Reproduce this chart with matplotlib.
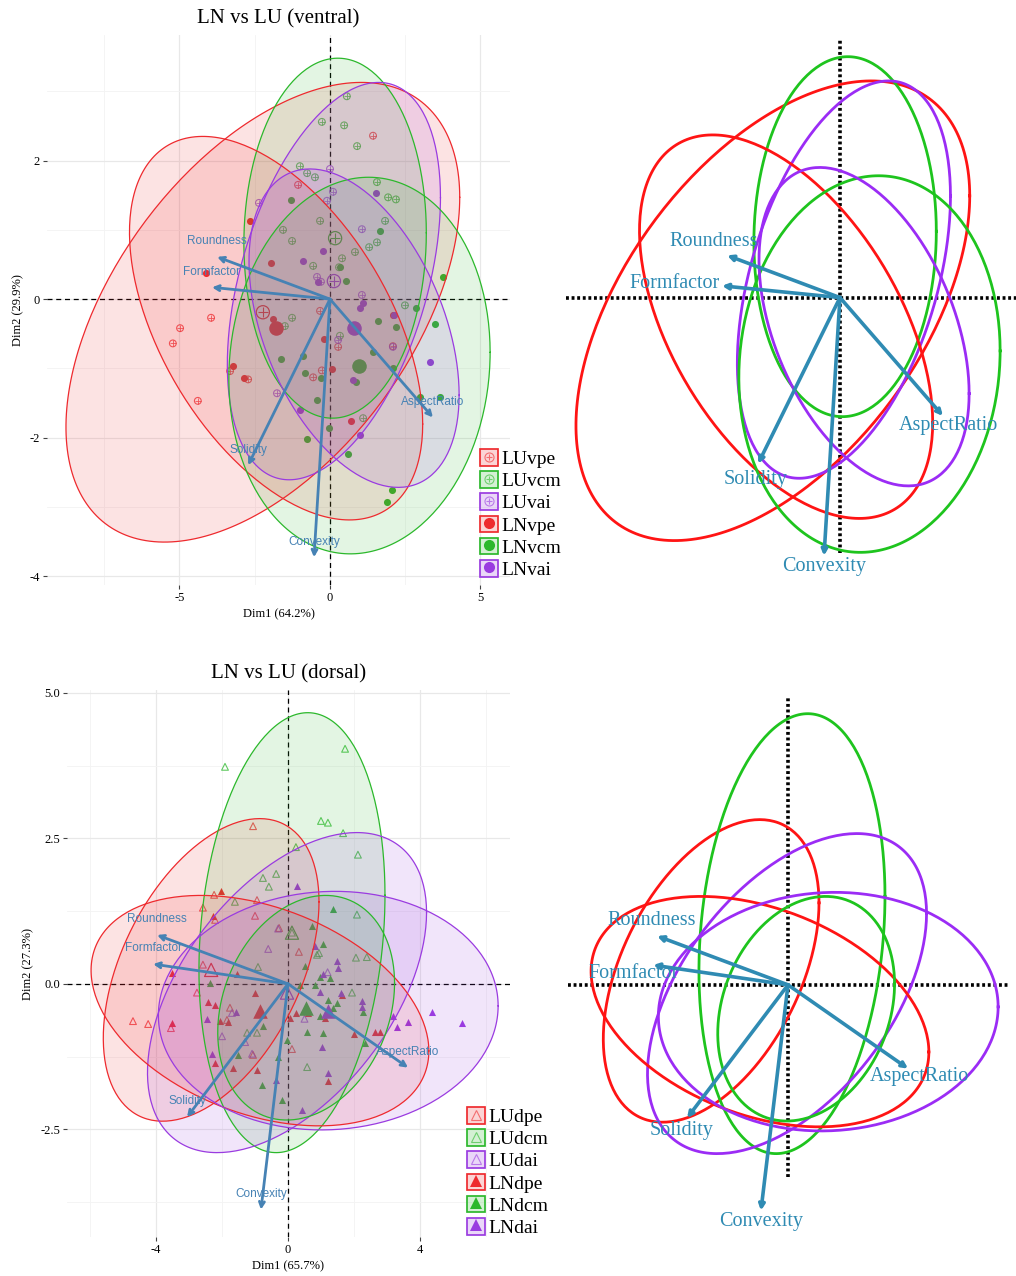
import numpy as np
import matplotlib
matplotlib.use("Agg")
import matplotlib.pyplot as plt
from matplotlib.lines import Line2D
from matplotlib.patches import Patch

plt.rcParams['font.family'] = ['Liberation Serif', 'DejaVu Serif']
plt.rcParams['axes.unicode_minus'] = False

variables = ["Roundness", "Formfactor", "AspectRatio", "Solidity", "Convexity"]

# ---- ventral PCA ----
v_groups = ["LUvpe", "LUvcm", "LUvai", "LNvpe", "LNvcm", "LNvai"]
v_load_x = [-3.75, -3.92, 3.42, -2.72, -0.53]
v_load_y = [0.61, 0.17, -1.71, -2.40, -3.73]
v_mean_x = [-2.23, 0.17, 0.13, -1.79, 0.98, 0.80]
v_mean_y = [-0.19, 0.88, 0.26, -0.42, -0.96, -0.42]
v_rad_x = [6.54, 3.03, 3.54, 4.87, 4.34, 3.49]
v_rad_y = [3.32, 2.60, 2.87, 2.77, 2.72, 2.30]
v_rho = [0.50, 0.03, 0.42, -0.50, 0.07, -0.42]

luvpe_x = [1.43, -3.95, -4.98, -5.22, -4.39, -3.32, -2.72, -0.56, -0.27, -0.33, 2.09, 0.27, -1.06]
luvpe_y = [2.36, -0.27, -0.42, -0.64, -1.47, -1.04, -1.16, -1.13, -1.03, -0.17, -0.68, -0.69, 1.65]
luvcm_x = [0.56, 0.47, -0.27, 0.90, -1.0, -0.76, -0.5, 1.56, 1.93, 2.19, 1.83, 1.56, 1.3, 0.83,
           -0.33, -1.56, -1.26, -0.56, 0.4, 0.3, 2.49, -1.26, -1.5, 0.33, 1.1]
luvcm_y = [2.93, 2.51, 2.56, 2.21, 1.92, 1.82, 1.76, 1.69, 1.47, 1.44, 1.13, 0.82, 0.75, 0.68,
           1.13, 1.0, 0.84, 0.48, 0.59, 0.46, -0.09, -0.27, -0.39, -0.53, -1.72]
luvai_x = [0.0, 0.1, -0.1, -2.36, 1.06, -0.43, 1.06, 2.09, -1.76, 0.27, -0.3]
luvai_y = [1.88, 1.55, 1.42, 1.39, 1.01, 0.32, 0.06, -0.69, -1.36, -0.59, 0.25]
lnvpe_x = [-2.66, -1.96, -4.12, -1.89, -3.22, -2.86, -0.2, 0.07, 0.7, 2.09]
lnvpe_y = [1.13, 0.52, 0.38, -0.29, -0.97, -1.14, -0.58, -1.01, -1.76, -0.23]
lnvcm_x = [-1.3, 1.66, 3.75, 0.33, 0.53, 2.86, 1.59, 2.19, 3.49, -1.63, -0.9, -0.83, -0.3, -0.43,
           0.86, 1.43, 2.09, 2.99, 3.65, -0.03, -0.76, 0.6, 2.06, 1.89]
lnvcm_y = [1.43, 0.98, 0.32, 0.46, 0.26, -0.13, -0.32, -0.4, -0.36, -0.87, -0.82, -1.07, -1.14, -1.46,
           -1.2, -0.76, -1.0, -1.42, -1.42, -1.86, -2.02, -2.24, -2.76, -2.93]
lnvai_x = [-0.23, -0.9, -0.4, 1.1, 1.0, 1.53, 2.13, 0.76, -1.0, 1.0, 3.32]
lnvai_y = [0.69, 0.55, 0.25, -0.06, -0.13, 1.53, -0.23, -1.17, -1.6, -1.97, -0.91]

# ---- dorsal PCA ----
d_groups = ["LUdpe", "LUdcm", "LUdai", "LNdpe", "LNdcm", "LNdai"]
d_load_x = [-3.97, -4.09, 3.64, -3.06, -0.82]
d_load_y = [0.84, 0.34, -1.44, -2.29, -3.88]
d_mean_x = [-2.33, 0.12, -0.03, -0.85, 0.55, 1.22]
d_mean_y = [0.24, 0.88, -0.15, -0.46, -0.41, -0.46]
d_rad_x = [3.27, 2.82, 4.23, 5.12, 2.68, 5.15]
d_rad_y = [2.60, 3.78, 2.75, 1.98, 1.93, 2.05]
d_rho = [0.45, 0.17, 0.50, -0.35, 0.22, 0.04]

ludpe_x = [-1.06, -2.24, -2.58, -0.94, -1.0, -2.21, -0.27, 0.33, -4.7, -4.24, -3.55, -2.58, -2.76,
           -1.76, -1.85, -1.06, 0.12]
ludpe_y = [2.71, 1.53, 1.31, 1.44, 1.17, 1.1, 0.96, 0.55, -0.64, -0.69, -0.76, 0.33, -0.15,
           -0.41, -0.62, -1.22, -1.12]
ludcm_x = [-1.91, 1.73, 1.0, 1.21, 1.67, 2.12, 0.24, -0.76, -0.36, -0.58, -1.61, 2.09, 0.12, 0.94,
           2.06, 2.39, 1.94, 0.58, -0.91, -1.24, -0.94, 0.88]
ludcm_y = [3.73, 4.04, 2.8, 2.77, 2.59, 2.22, 2.35, 1.82, 1.89, 1.67, 1.41, 1.19, 0.88, 0.53,
           0.45, 0.46, -0.15, -1.43, 0.29, -0.84, -0.84, 0.5]
ludai_x = [-1.09, -1.7, -0.3, 1.2, -1.3, -0.6, 0.5, -2.0]
ludai_y = [-1.2, -0.5, 0.95, 0.2, -1.0, 0.6, -0.6, -0.9]
lndpe_x = [-2.03, -2.27, -3.52, -3.52, -2.42, -2.21, -2.06, -1.82, -1.55, -1.0, -2.21, -1.67, -0.94,
           0.24, 0.61, 1.12, 1.64, 2.0, 2.64, 2.79, 1.21, 0.06]
lndpe_y = [1.6, 1.17, 0.19, -0.67, -0.31, -0.36, -0.64, -0.65, 0.17, -0.15, -1.36, -1.44, -1.48,
           -0.5, -0.5, -0.58, -0.19, -0.86, -0.82, -0.82, -1.67, -0.58]
lndcm_x = [1.36, 0.73, 1.06, 0.52, 0.97, 1.27, 0.82, 1.21, 1.48, 1.36, 0.97, 2.27, 0.58, 1.06, 2.33,
           -0.76, -1.52, -0.3, -0.79, -0.18, -0.03, -2.36, 0.36]
lndcm_y = [1.29, 1.0, 0.69, 0.31, 0.12, 0.1, -0.02, -0.27, -0.33, -0.41, -0.56, -0.48, -0.82, -0.84,
           -1.01, -0.72, -1.22, -1.25, -1.74, -1.99, -0.96, 0.02, -0.02]
lndai_x = [0.27, 0.82, 1.48, 1.52, 1.06, 0.97, 1.61, 2.24, 2.24, 3.18, 3.64, 4.36, 5.27, 3.3, 1.03,
           1.21, 0.42, -2.3, -2.45, -1.58, -0.36]
lndai_y = [1.68, 0.65, 0.4, 0.27, 0.17, -0.14, -0.15, -0.29, -0.4, -0.55, -0.65, -0.48, -0.67, -0.74,
           -1.08, -1.53, -2.16, -1.2, -0.6, -0.48, -1.65]

v_points = [(luvpe_x, luvpe_y), (luvcm_x, luvcm_y), (luvai_x, luvai_y),
            (lnvpe_x, lnvpe_y), (lnvcm_x, lnvcm_y), (lnvai_x, lnvai_y)]
d_points = [(ludpe_x, ludpe_y), (ludcm_x, ludcm_y), (ludai_x, ludai_y),
            (lndpe_x, lndpe_y), (lndcm_x, lndcm_y), (lndai_x, lndai_y)]

grp_col = ['#EE2A2E', '#2CB82C', '#9A3BE0'] * 2
bright_col = ['#FF1414', '#1EC41E', '#9B2CF5'] * 2
arrow_col = '#4682B4'
arrow_col2 = '#2F8BB3'

W, H = 1016, 1276
fig = plt.figure(figsize=(W / 100, H / 100), dpi=100)


def px_axes(l, t, r, b):
    return fig.add_axes([l / W, 1 - b / H, (r - l) / W, (b - t) / H])


def ellipse(cx, cy, rx, ry, rho, n=240):
    t = np.linspace(0, 2 * np.pi, n)
    phi = np.arccos(rho)
    return cx + rx * np.cos(t), cy + ry * np.cos(t - phi)


def style_panel(ax, xlim, ylim, xt, yt, xminor, yminor, ytl, title, xlab, ylab):
    ax.set_xlim(xlim)
    ax.set_ylim(ylim)
    ax.set_xticks(xt)
    ax.set_yticks(yt)
    ax.set_yticklabels(ytl)
    ax.set_xticks(xminor, minor=True)
    ax.set_yticks(yminor, minor=True)
    for s in ax.spines.values():
        s.set_visible(False)
    ax.grid(which='major', color='#E8E8E8', lw=0.9)
    ax.grid(which='minor', color='#F3F3F3', lw=0.6)
    ax.set_axisbelow(True)
    ax.tick_params(which='major', length=3, width=0.8, color='#444444', labelsize=9, pad=2)
    ax.tick_params(which='minor', length=0)
    ax.axhline(0, color='black', lw=0.9, ls=(0, (4, 3)), zorder=1)
    ax.axvline(0, color='black', lw=0.9, ls=(0, (4, 3)), zorder=1)
    ax.set_title(title, fontsize=15, pad=8)
    ax.set_xlabel(xlab, fontsize=9, labelpad=3)
    ax.set_ylabel(ylab, fontsize=9, labelpad=4)


def biplot(ax, points, mx, my, rx, ry, rho, lx, ly, marker, hollow_marker):
    # individuals, then group means
    for g in range(6):
        px, py = points[g]
        if g < 3:
            ax.scatter(px, py, s=24, facecolors='none', edgecolors=grp_col[g], lw=0.8,
                       marker=hollow_marker, alpha=0.75, zorder=2)
            if marker == 'o':
                ax.scatter(px, py, s=14, color=grp_col[g], lw=0.6, marker='+', alpha=0.75, zorder=2)
            ax.scatter(mx[g], my[g], s=90, facecolors='none', edgecolors=grp_col[g], lw=0.9,
                       marker=hollow_marker, zorder=2)
            if marker == 'o':
                ax.scatter(mx[g], my[g], s=60, color=grp_col[g], lw=0.8, marker='+', zorder=2)
        else:
            ax.scatter(px, py, s=26, color=grp_col[g], marker=marker, lw=0, zorder=2)
            ax.scatter(mx[g], my[g], s=110, color=grp_col[g], marker=marker, lw=0, zorder=2)
    # confidence ellipses
    for g in range(6):
        ex, ey = ellipse(mx[g], my[g], rx[g], ry[g], rho[g])
        ax.fill(ex, ey, color=grp_col[g], alpha=0.13, lw=0, zorder=3)
        ax.plot(ex, ey, color=grp_col[g], lw=0.9, zorder=4)
    # variable arrows
    for name, x, y in zip(variables, lx, ly):
        ax.annotate('', xy=(x, y), xytext=(0, 0), zorder=5,
                    arrowprops=dict(arrowstyle='->', color=arrow_col, lw=2.0,
                                    shrinkA=0, shrinkB=0, mutation_scale=9))
        ax.annotate(name, xy=(x, y), xytext=(0, 7), textcoords='offset points',
                    ha='center', va='bottom', fontsize=8.5, color=arrow_col,
                    family=['Liberation Sans', 'DejaVu Sans'], zorder=6)


def outline_plot(ax, xlim, ylim, mx, my, rx, ry, rho, lx, ly, vspan, hspan, offsets):
    ax.set_xlim(xlim)
    ax.set_ylim(ylim)
    ax.axis('off')
    dots = dict(color='black', lw=2.6, ls=(0, (0.8, 0.75)), solid_capstyle='butt', zorder=1)
    ax.plot([0, 0], vspan, **dots)
    ax.plot(hspan, [0, 0], **dots)
    for g in range(6):
        ex, ey = ellipse(mx[g], my[g], rx[g], ry[g], rho[g])
        ax.plot(ex, ey, color=bright_col[g], lw=2.0, zorder=3)
    for name, x, y in zip(variables, lx, ly):
        ax.annotate('', xy=(x, y), xytext=(0, 0), zorder=5,
                    arrowprops=dict(arrowstyle='->', color=arrow_col2, lw=2.6,
                                    shrinkA=0, shrinkB=0, mutation_scale=8))
        dx, dy, ha = offsets[name]
        ax.annotate(name, xy=(x, y), xytext=(dx, dy), textcoords='offset points',
                    ha=ha, va='center', fontsize=14.5, color=arrow_col2, zorder=6)


def legend_for(groups, marker, hollow_marker, x0, y0):
    handles = []
    for g in range(6):
        box = Patch(facecolor=grp_col[g], alpha=0.2, edgecolor=grp_col[g], lw=1.2)
        frame = Patch(facecolor='none', edgecolor=grp_col[g], lw=1.2)
        if g < 3:
            m1 = Line2D([], [], ls='none', marker=hollow_marker, ms=6.5, mfc='none',
                        mec=grp_col[g], mew=0.8, alpha=0.6)
            if marker == 'o':
                m2 = Line2D([], [], ls='none', marker='+', ms=5, mec=grp_col[g], mew=0.8, alpha=0.6)
                handles.append((box, frame, m1, m2))
            else:
                handles.append((box, frame, m1))
        else:
            m1 = Line2D([], [], ls='none', marker=marker, ms=8, color=grp_col[g], mew=0)
            handles.append((box, frame, m1))
    fig.legend(handles, groups, loc='upper left', bbox_to_anchor=(x0 / W, 1 - y0 / H),
               frameon=False, fontsize=14, handlelength=0.95, handleheight=0.95,
               handletextpad=0.15, labelspacing=0.16, borderpad=0, borderaxespad=0)


# ventral panel
ax1 = px_axes(47, 35, 510, 585)
style_panel(ax1, (-9.40, 5.98), (-4.13, 3.815), [-5, 0, 5], [2, 0, -2, -4],
            [-7.5, -2.5, 2.5], [3, 1, -1, -3], ['2', '0', '-2', '-4'],
            'LN vs LU (ventral)', 'Dim1 (64.2%)', 'Dim2 (29.9%)')
biplot(ax1, v_points, v_mean_x, v_mean_y, v_rad_x, v_rad_y, v_rho, v_load_x, v_load_y, 'o', 'o')

# dorsal panel
ax2 = px_axes(67, 690, 510, 1237)
style_panel(ax2, (-6.70, 6.73), (-4.35, 5.05), [-4, 0, 4], [5.0, 2.5, 0.0, -2.5],
            [-6, -2, 2, 6], [3.75, 1.25, -1.25, -3.75], ['5.0', '2.5', '0.0', '-2.5'],
            'LN vs LU (dorsal)', 'Dim1 (65.7%)', 'Dim2 (27.3%)')
biplot(ax2, d_points, d_mean_x, d_mean_y, d_rad_x, d_rad_y, d_rho, d_load_x, d_load_y, '^', '^')

# outline-only versions
v_offsets = {'Roundness': (-10, 10, 'center'), 'Formfactor': (-2, 2, 'right'),
             'AspectRatio': (4, -7, 'center'), 'Solidity': (-2, -11, 'center'),
             'Convexity': (0, -8, 'center')}
d_offsets = {'Roundness': (-4, 11, 'center'), 'Formfactor': (-14, -6, 'center'),
             'AspectRatio': (8, -6, 'center'), 'Solidity': (-4, -9, 'center'),
             'Convexity': (0, -8, 'center')}
ax3 = px_axes(557, 33.5, 1020, 583.5)
outline_plot(ax3, (-9.40, 5.98), (-4.13, 3.815), v_mean_x, v_mean_y, v_rad_x, v_rad_y, v_rho,
             v_load_x, v_load_y, [-3.69, 3.73], [-9.1, 6.0], v_offsets)
ax4 = px_axes(567, 691, 1010, 1238)
outline_plot(ax4, (-6.70, 6.73), (-4.35, 5.05), d_mean_x, d_mean_y, d_rad_x, d_rad_y, d_rho,
             d_load_x, d_load_y, [-3.3, 4.95], [-6.67, 6.8], d_offsets)

legend_for(v_groups, 'o', 'o', 480, 449)
legend_for(d_groups, '^', '^', 467, 1107)

fig.savefig('out.png', dpi=100)
